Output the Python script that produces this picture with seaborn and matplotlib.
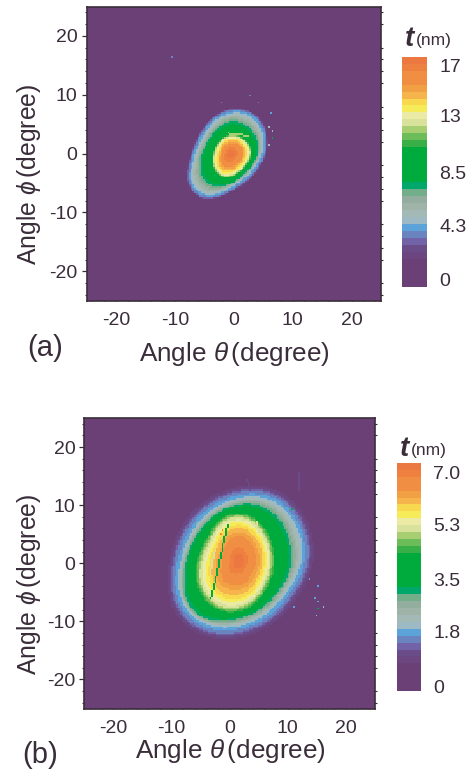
import numpy as np
import matplotlib
matplotlib.use("Agg")
import matplotlib.pyplot as plt
from matplotlib.colors import ListedColormap
from matplotlib.ticker import FixedLocator
import seaborn as sns

sns.set_style("ticks")
plt.rcParams['font.family'] = ['Liberation Sans', 'DejaVu Sans']
plt.rcParams['mathtext.fontset'] = 'custom'
plt.rcParams['mathtext.rm'] = 'Liberation Sans'
plt.rcParams['mathtext.it'] = 'Liberation Sans:italic'
plt.rcParams['mathtext.bf'] = 'Liberation Sans:bold'

INK = '#3a2d3a'
W, H = 471, 772

band_colors = ['#6B4076'] * 4 + ['#6B4680', '#6A4C88', '#7263A8', '#6A84C0', '#5BA3D8',
               '#9DBAC4', '#A3B9B5', '#A0B3A8', '#93AD9E', '#72AE8A', '#00A86B'] + ['#00AB3D'] * 5 + [
               '#39AF48', '#6CBC5A', '#A8CE72', '#D8E29A', '#EBEBA5', '#F6EC5A', '#F8D84F',
               '#F5B54C', '#F2A044', '#F08E44', '#F08E44', '#EE8040', '#EB7840']

# direction of each outline radius, degrees counter-clockwise from +theta
directions = np.arange(16) * 22.5

# Panel (a): contour levels (radii in 1/17.625 degree)
a_center = (-0.68, -0.06)
a_scale = 17.625
a_levels = [17.3, 15.7, 14.0, 12.2, 10.3, 7.4, 4.5, 3.4, 2.9, 0.5]
a_radii = [
    [12, 12, 11, 10, 9, 8, 8, 7, 7, 8, 10, 12, 12, 11, 10, 11],
    [38, 39, 36, 32, 28, 25, 24, 22, 22, 26, 33, 38, 38, 35, 33, 35],
    [50, 51, 49, 47, 44, 40, 36, 34, 35, 41, 50, 58, 55, 49, 46, 47],
    [60, 60, 58, 56, 52, 48, 44, 42, 44, 50, 60, 70, 66, 58, 56, 56],
    [65, 65, 63, 61, 57, 53, 49, 47, 49, 55, 65, 75, 71, 63, 61, 61],
    [80, 89, 92, 98, 97, 82, 76, 72, 80, 92, 110, 105, 87, 77, 70, 75],
    [95, 107, 125, 128, 122, 108, 96, 94, 100, 122, 154, 133, 97, 85, 82, 82],
    [105, 117, 135, 138, 132, 118, 106, 104, 110, 132, 164, 143, 107, 95, 92, 92],
    [107, 119, 137, 140, 134, 120, 108, 106, 112, 134, 166, 145, 109, 97, 94, 94],
    [111, 123, 141, 144, 138, 124, 112, 110, 116, 138, 170, 149, 113, 101, 98, 98],
]
a_speck_theta = [6.4, 2.6, 5.84, 6.58, 6.58, 6.12, -2.22, 4.25, -10.5]
a_speck_phi = [6.75, 9.87, 4.37, 4.03, 2.6, 1.64, 8.56, 8.73, 16.5]
a_speck_t = [4.0, 3.4, 5.0, 5.5, 8.5, 5.0, 3.4, 3.4, 3.4]
a_streaks = [(-0.97, 3.46, 2.44, 3.06, 11.9)]  # theta0, phi0, theta1, phi1, t

# Panel (b): contour levels (radii in 1/17.4 degree)
b_center = (1.56, 0.51)
b_scale = 17.4
b_levels = [7.1, 6.4, 5.85, 5.1, 4.3, 3.0, 1.95, 1.45, 1.0, 0.4]
b_radii = [
    [15, 15, 17, 20, 22, 20, 16, 14, 14, 15, 22, 24, 22, 20, 15, 15],
    [55, 55, 61, 70, 75, 70, 57, 50, 52, 55, 75, 80, 75, 70, 55, 55],
    [75, 78, 85, 97, 105, 98, 82, 77, 82, 92, 110, 118, 110, 100, 80, 77],
    [93, 97, 106, 122, 130, 125, 104, 102, 108, 125, 140, 150, 140, 125, 103, 97],
    [108, 112, 121, 137, 145, 140, 119, 117, 123, 140, 155, 165, 155, 140, 118, 112],
    [160, 162, 175, 178, 167, 155, 146, 147, 155, 172, 212, 195, 172, 162, 150, 152],
    [187, 196, 204, 202, 182, 169, 163, 160, 167, 192, 217, 212, 194, 180, 169, 172],
    [207, 216, 224, 222, 202, 189, 183, 180, 187, 212, 237, 232, 214, 200, 189, 192],
    [217, 226, 234, 232, 212, 199, 193, 190, 197, 222, 247, 242, 224, 210, 199, 202],
    [235, 244, 252, 250, 230, 217, 211, 208, 215, 240, 265, 260, 242, 228, 217, 220],
]
b_speck_theta = [10.75, 15.35, 14.6, 15.2, 16.1, 15.07, 15.35, 13.63, 11.16, -1.31, -1.6]
b_speck_phi = [9.4, -7.82, -6.1, -6.55, -7.36, -9.0, -3.97, -2.65, -7.53, 5.68, 5.1]
b_speck_t = [3.6, 3.6, 1.8, 1.8, 1.9, 2.0, 1.7, 1.7, 1.7, 7.0, 6.6]
b_streaks = [
    (-0.34, 6.55, -3.15, -6.1, 3.8),
    (11.9, 15.7, 12.0, 12.6, 1.0),
    (3.0, 14.3, 3.6, 12.6, 1.0),
    (4.72, 7.12, 5.0, 5.4, 5.1),
    (-2.46, 2.5, -3.3, -1.8, 5.1),
]

theta_ticks = [-20, -10, 0, 10, 20]
phi_ticks = [-20, -10, 0, 10, 20]
minor_ticks = [v for v in range(-24, 25, 2) if v % 10 != 0]
a_cbar_ticks = [0, 4.3, 8.5, 13, 17]
a_cbar_labels = ['0', '4.3', '8.5', '13', '17']
b_cbar_ticks = [0, 1.8, 3.5, 5.3, 7.0]
b_cbar_labels = ['0', '1.8', '3.5', '5.3', '7.0']

LIM = 25.0
CELLS = 167
CELL = 2 * LIM / CELLS


def raster(center, scale, levels, radii, sth, sph, st, streaks):
    centers = -LIM + (np.arange(CELLS) + 0.5) * CELL
    th, ph = np.meshgrid(centers, centers[::-1])
    dx = th - center[0]
    dy = ph - center[1]
    rr = np.hypot(dx, dy) * scale
    ang = np.degrees(np.arctan2(dy, dx)) % 360
    rad = np.array(radii, dtype=float)
    # outline radius in each cell's direction, rounded over the table's corners
    at_angle = np.stack([
        np.mean([np.interp(ang.ravel() + d, directions, row, period=360) for d in (-11, 0, 11)], axis=0)
        for row in rad])
    lev = np.array(levels)
    vals = np.zeros(rr.size)
    for i, r in enumerate(rr.ravel()):
        vals[i] = np.interp(r, np.r_[0.0, at_angle[:, i]], np.r_[lev[0], lev], right=0.0)
    m = vals.reshape(rr.shape)

    def cell(t, p):
        return int((LIM - p) / CELL), int((t + LIM) / CELL)

    for t0, p0, t1, p1, tv in streaks:
        n = int(max(abs(t1 - t0), abs(p1 - p0)) / CELL) + 2
        for k in range(n):
            f = k / (n - 1)
            m[cell(t0 + f * (t1 - t0), p0 + f * (p1 - p0))] = tv
    for t, p, v in zip(sth, sph, st):
        m[cell(t, p)] = v
    return m


def axes_px(fig, l, t, r, b):
    return fig.add_axes([l / W, 1 - b / H, (r - l) / W, (b - t) / H])


def panel(fig, box, cbox, matrix, vmin, vmax, cticks, clabels):
    ax = axes_px(fig, *box)
    cax = axes_px(fig, *cbox)
    sns.heatmap(matrix, ax=ax, cbar_ax=cax, cmap=ListedColormap(band_colors),
                vmin=vmin, vmax=vmax, xticklabels=False, yticklabels=False,
                cbar_kws={'ticks': cticks}, rasterized=True)
    xpos = lambda v: (v + LIM) / CELL
    ypos = lambda v: (LIM - v) / CELL
    ax.set_xticks([xpos(v) for v in theta_ticks])
    ax.set_xticklabels([str(v) for v in theta_ticks])
    ax.set_yticks([ypos(v) for v in phi_ticks])
    ax.set_yticklabels([str(v) for v in phi_ticks], rotation=0)
    ax.xaxis.set_minor_locator(FixedLocator([xpos(v) for v in minor_ticks]))
    ax.yaxis.set_minor_locator(FixedLocator([ypos(v) for v in minor_ticks]))
    for s in ax.spines.values():
        s.set_visible(True)
        s.set_color(INK)
        s.set_linewidth(1.2)
    ax.tick_params(axis='x', which='major', direction='in', length=5.5, width=0.9, color=INK,
                   labelcolor=INK, labelsize=14, pad=8, top=True, bottom=True)
    ax.tick_params(axis='x', which='minor', direction='in', length=3, width=0.8, color=INK,
                   top=True, bottom=True)
    ax.tick_params(axis='y', which='major', direction='out', length=3.5, width=0.9, color=INK,
                   labelcolor=INK, labelsize=14, pad=3, left=True, right=False)
    ax.tick_params(axis='y', which='minor', direction='inout', length=3.5, width=0.8, color=INK,
                   left=True, right=True)
    cb = ax.collections[0].colorbar
    cb.outline.set_visible(False)
    cb.set_ticks(cticks)
    cb.set_ticklabels(clabels)
    cb.ax.minorticks_off()
    cb.ax.tick_params(length=0, labelsize=14, labelcolor=INK, pad=9)
    return ax


fig = plt.figure(figsize=(W / 100, H / 100), dpi=100, facecolor='white')

mat_a = raster(a_center, a_scale, a_levels, a_radii, a_speck_theta, a_speck_phi, a_speck_t, a_streaks)
mat_b = raster(b_center, b_scale, b_levels, b_radii, b_speck_theta, b_speck_phi, b_speck_t, b_streaks)

panel(fig, (86.5, 6.5, 381, 300.7), (402, 56.7, 426.7, 286.7), mat_a, -0.53, 17.66, a_cbar_ticks, a_cbar_labels)
panel(fig, (84.3, 418, 374.7, 708.5), (397, 463, 421, 691), mat_b, -0.16, 7.32, b_cbar_ticks, b_cbar_labels)


def put(x, y, s, **kw):
    kw.setdefault('color', INK)
    kw.setdefault('ha', 'center')
    kw.setdefault('va', 'center')
    fig.text(x / W, 1 - y / H, s, **kw)


put(234, 354, r'Angle $\theta\,$(degree)', fontsize=18.8)
put(29, 174, r'Angle $\phi\,$(degree)', fontsize=17.8, rotation=90)
put(230, 751, r'Angle $\theta\,$(degree)', fontsize=18.8)
put(29, 584, r'Angle $\phi\,$(degree)', fontsize=17.8, rotation=90)
put(45, 348, '(a)', fontsize=21)
put(40, 755, '(b)', fontsize=21)
put(409, 39, 't', fontsize=20, style='italic', weight='bold')
put(416, 41, '(nm)', fontsize=12.5, ha='left')
put(404, 449, 't', fontsize=20, style='italic', weight='bold')
put(411, 451, '(nm)', fontsize=12.5, ha='left')

fig.savefig('out.png', dpi=100, facecolor='white')
